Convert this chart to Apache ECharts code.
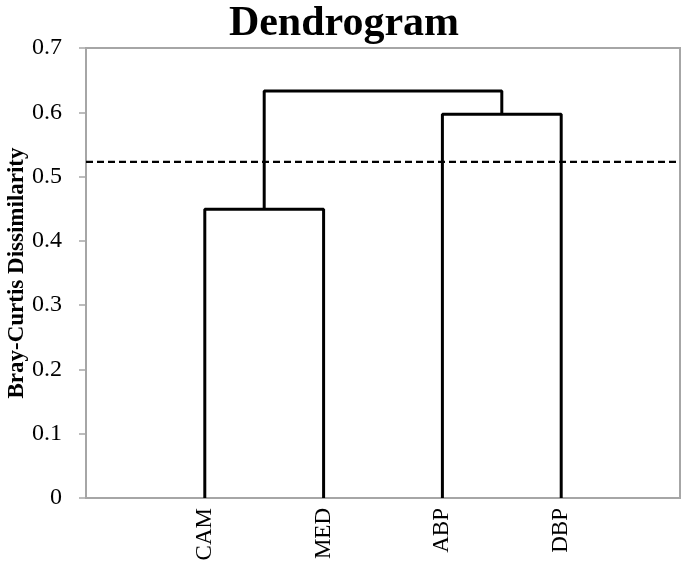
<!DOCTYPE html>
<html>
<head>
<meta charset="utf-8">
<script src="https://cdn.jsdelivr.net/npm/echarts@6/dist/echarts.min.js"></script>
<style>html,body{margin:0;padding:0;background:#fff;}#c{width:688px;height:563px;}</style>
</head>
<body>
<div id="c"></div>
<script>
// Leaves in display order
const leaves = ['CAM', 'MED', 'ABP', 'DBP'];
// Merge steps: pair of cluster ids (0..3 = leaves, 4+ = earlier merges) and height
const mergePairs = [[0, 1], [2, 3], [4, 5]];
const mergeHeights = [0.449, 0.597, 0.633];
// Cut threshold (dashed line)
const cutHeight = 0.523;
const yTicks = [0, 0.1, 0.2, 0.3, 0.4, 0.5, 0.6, 0.7];

// cluster positions: leaves at index+1 on the x scale, merged clusters at midpoint
const clusterX = leaves.map((_, i) => i + 1);
const clusterH = leaves.map(() => 0);
const series = [];
mergePairs.forEach((p, k) => {
  const [a, b] = p;
  const h = mergeHeights[k];
  series.push({
    type: 'line',
    symbol: 'none',
    silent: true,
    lineStyle: { color: '#000', width: 3 },
    data: [[clusterX[a], clusterH[a]], [clusterX[a], h], [clusterX[b], h], [clusterX[b], clusterH[b]]],
    z: 3
  });
  clusterX.push((clusterX[a] + clusterX[b]) / 2);
  clusterH.push(h);
});
series.push({
  type: 'line', symbol: 'none', silent: true, z: 2,
  lineStyle: { color: '#000', type: [7, 4], width: 2.2 },
  data: [[0, cutHeight], [leaves.length + 1, cutHeight]]
});

const chart = echarts.init(document.getElementById('c'), null, { renderer: 'canvas' });
chart.setOption({
  animation: false,
  backgroundColor: '#fff',
  title: {
    text: 'Dendrogram', left: 'center', top: -2,
    textStyle: { fontFamily: 'Liberation Serif', fontWeight: 'bold', fontSize: 42, color: '#000' }
  },
  grid: { left: 86, right: 8, top: 48, bottom: 65, containLabel: false, outerBoundsMode: 'none', show: true, borderColor: '#a6a6a6', borderWidth: 2 },
  xAxis: {
    type: 'value', min: 0, max: leaves.length + 1, interval: 1,
    axisLine: { lineStyle: { color: '#a6a6a6', width: 2 } },
    axisTick: { show: false },
    splitLine: { show: false },
    axisLabel: {
      rotate: 90, margin: 10, color: '#000', fontFamily: 'Liberation Serif', fontSize: 23,
      formatter: v => (v >= 1 && v <= leaves.length) ? leaves[Math.round(v) - 1] : ''
    }
  },
  yAxis: {
    type: 'value', min: yTicks[0], max: yTicks[yTicks.length - 1], interval: 0.1,
    name: 'Bray-Curtis Dissimilarity', nameLocation: 'middle', nameRotate: 90, nameGap: 57,
    nameMoveOverlap: false,
    nameTextStyle: { fontFamily: 'Liberation Serif', fontWeight: 'bold', fontSize: 23, color: '#000' },
    axisLine: { show: true, lineStyle: { color: '#a6a6a6', width: 2 } },
    axisTick: { show: true, length: 7, lineStyle: { color: '#a6a6a6', width: 1.5 } },
    splitLine: { show: false },
    axisLabel: {
      margin: 24, color: '#000', fontFamily: 'Liberation Serif', fontSize: 24,
      formatter: v => { const t = yTicks.find(x => Math.abs(x - v) < 1e-9); return t === 0 ? '0' : (t !== undefined ? t.toFixed(1) : ''); }
    }
  },
  series: series
});
</script>
</body>
</html>
